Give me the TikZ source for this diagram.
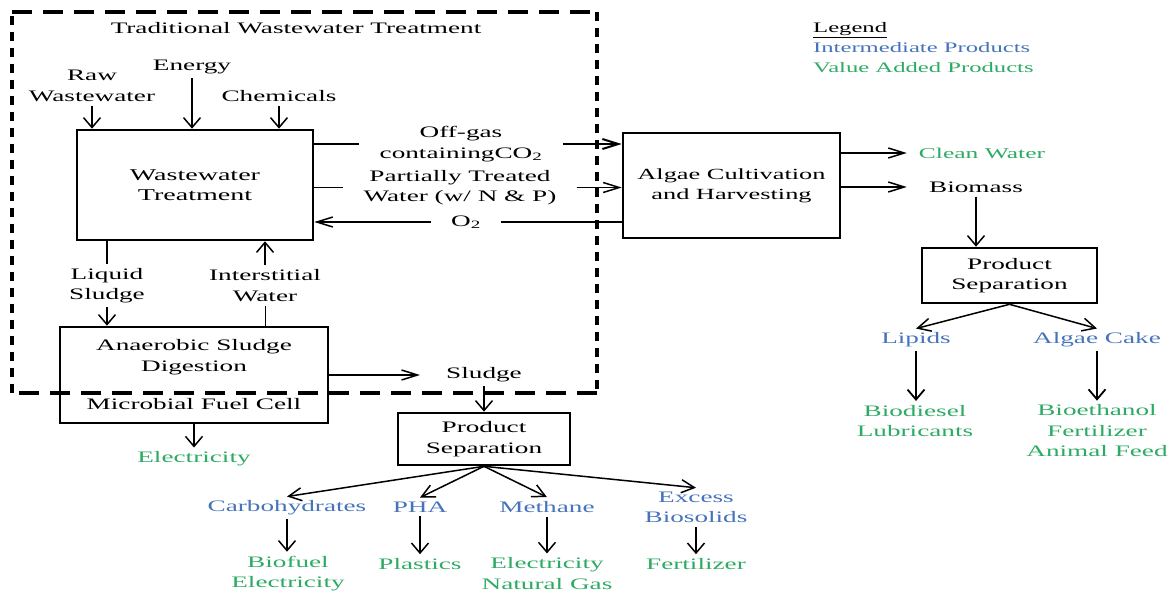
\documentclass[tikz,border=0pt]{standalone}
\usepackage{fontspec}
\setmainfont{Liberation Serif}[FakeStretch=1.7]
\usetikzlibrary{arrows.meta,positioning}
\definecolor{interblue}{RGB}{70,115,185}
\definecolor{valuegreen}{RGB}{45,170,100}

\begin{document}
\begin{tikzpicture}[x=1pt,y=-1pt,
    font=\fontsize{16}{20.5}\selectfont,
    box/.style={draw,line width=2.6pt,align=center,inner sep=0pt},
    lbl/.style={align=center,inner sep=4pt},
    gap/.style={lbl,inner xsep=20pt},
    inter/.style={lbl,text=interblue},
    value/.style={lbl,text=valuegreen},
    varr/.style={-{Straight Barb[length=10pt,width=17pt]},line width=1.5pt},
    harr/.style={-{Straight Barb[length=16pt,width=10pt]},line width=1.5pt},
    darr/.style={-{Straight Barb[length=13pt,width=13pt]},line width=1.5pt},
    dashh/.style={line width=3.6pt,dash pattern=on 20pt off 11pt},
    dashv/.style={line width=4.2pt,dash pattern=on 9pt off 7pt}]

    \useasboundingbox (0,0) rectangle (1170,592);

    % Traditional treatment
    \node[lbl] (title) at (296,28) {Traditional Wastewater Treatment};
    \node[box,minimum width=236,minimum height=110,font=\fontsize{16.5}{20.5}\selectfont] (wwt) at (195,185) {Wastewater\\Treatment};
    \node[lbl] (raw)    at (92,86)  {Raw\\Wastewater};
    \node[lbl] (energy) at (192,67) {Energy};
    \node[lbl] (chem)   at (279,96) {Chemicals};
    \node[lbl] (liq)    at (107,285.5) {Liquid\\Sludge};
    \node[lbl] (inter)  at (265,285.5) {Interstitial\\Water};
    \node[box,minimum width=268,minimum height=96] (asd) at (194,375)
      {Anaerobic Sludge\\Digestion\\[18pt]Microbial Fuel Cell};

    \draw[varr] (raw) -- (raw |- wwt.north);
    \draw[varr] (energy) -- (energy |- wwt.north);
    \draw[varr] (chem) -- (chem |- wwt.north);
    \draw[line width=1.5pt] (wwt.south -| liq) -- (liq);
    \draw[varr] (liq) -- (liq |- asd.north);
    \draw[varr] (inter) -- (inter |- wwt.south);
    \draw[line width=1pt] (asd.north -| inter) -- (inter);

    % Exchange with algae
    \node[box,minimum width=217,minimum height=105,font=\fontsize{15.5}{20}\selectfont] (alg) at (731.5,185.5)
      {Algae Cultivation\\and Harvesting};
    \node[gap] (offgas) at (461,144) {Off-gas\\containingCO\textsubscript{2}};
    \node[gap] (ptw)    at (460,187.5) {Partially Treated\\Water (w/ N \& P)};
    \node[gap] (otwo)   at (466,222) {O\textsubscript{2}};

    \draw[line width=2.4pt] (wwt.east |- offgas) -- (offgas);
    \draw[harr,line width=2pt] (offgas) -- (alg.west |- offgas);
    \draw[line width=1pt] (wwt.east |- ptw) -- (ptw);
    \draw[harr] (ptw) -- (alg.west |- ptw);
    \draw[line width=1.5pt] (alg.west |- otwo) -- (otwo);
    \draw[harr] (otwo) -- (wwt.east |- otwo);

    % Sludge products
    \node[lbl,inner xsep=26pt] (sludge) at (484,375) {Sludge};
    \node[box,minimum width=172,minimum height=52] (psa) at (484,439) {Product\\Separation};
    \node[value] (elec) at (194,459) {Electricity};
    \node[inter] (carb)   at (287,508) {Carbohydrates};
    \node[inter] (pha)    at (420,507) {PHA};
    \node[inter] (meth)   at (547,507) {Methane};
    \node[inter] (excess) at (696,507.5) {Excess\\Biosolids};
    \node[value] (biofuel)  at (288,573.5) {Biofuel\\Electricity};
    \node[value] (plastics) at (420,564) {Plastics};
    \node[value] (elecgas)  at (547,573.5) {Electricity\\Natural Gas};
    \node[value] (fert)     at (696,564) {Fertilizer};

    \draw[harr] (asd.east |- sludge) -- (sludge);
    \draw[varr] (sludge) -- (sludge |- psa.north);
    \draw[varr] (asd.south -| elec) -- (elec);
    \foreach \n in {carb,pha,meth,excess}
      \draw[darr] (psa.south) -- (\n.north);
    \draw[varr] (carb) -- (carb |- biofuel.north);
    \draw[varr] (pha) -- (pha |- plastics.north);
    \draw[varr] (meth) -- (meth |- elecgas.north);
    \draw[varr] (excess) -- (excess |- fert.north);

    % Algae products
    \node[value,inner xsep=12pt,font=\fontsize{15}{20}\selectfont] (clean) at (982,153) {Clean Water};
    \node[lbl] (bio) at (976,187) {Biomass};
    \node[box,minimum width=175,minimum height=55] (psb) at (1009.5,275.5) {Product\\Separation};
    \node[inter] (lipids) at (916,340) {Lipids};
    \node[inter] (cake)   at (1097,340) {Algae Cake};
    \node[value] (biodsl) at (915,421) {Biodiesel\\Lubricants};
    \node[value] (bioeth) at (1097,431) {Bioethanol\\Fertilizer\\Animal Feed};

    \draw[harr] (alg.east |- clean) -- (clean.west);
    \draw[harr] (alg.east |- bio) -- (clean.west |- bio);
    \draw[varr] (bio) -- (bio |- psb.north);
    \draw[darr] (psb.south) -- (lipids.north);
    \draw[darr] (psb.south) -- (cake.north);
    \draw[varr,line width=1.8pt] (lipids) -- (lipids |- biodsl.north);
    \draw[varr,line width=1.8pt] (cake) -- (cake |- bioeth.north);

    % Legend
    \node[lbl,anchor=west,align=left,font=\fontsize{14.5}{20}\selectfont] (legend) at (809,48)
      {\underline{Legend}\\{\color{interblue}Intermediate Products}\\{\color{valuegreen}Value Added Products}};

    % Dashed frame
    \coordinate (tl) at (12,12);
    \coordinate (tr) at (597,12);
    \coordinate (br) at (597,393);
    \coordinate (bl) at (12,393);
    \draw[dashh] (tl) -- (tr);
    \draw[dashv] (tr) -- (br);
    \draw[dashh] (br) -- (bl);
    \draw[dashv] (bl) -- (tl);
  \end{tikzpicture}
\end{document}
